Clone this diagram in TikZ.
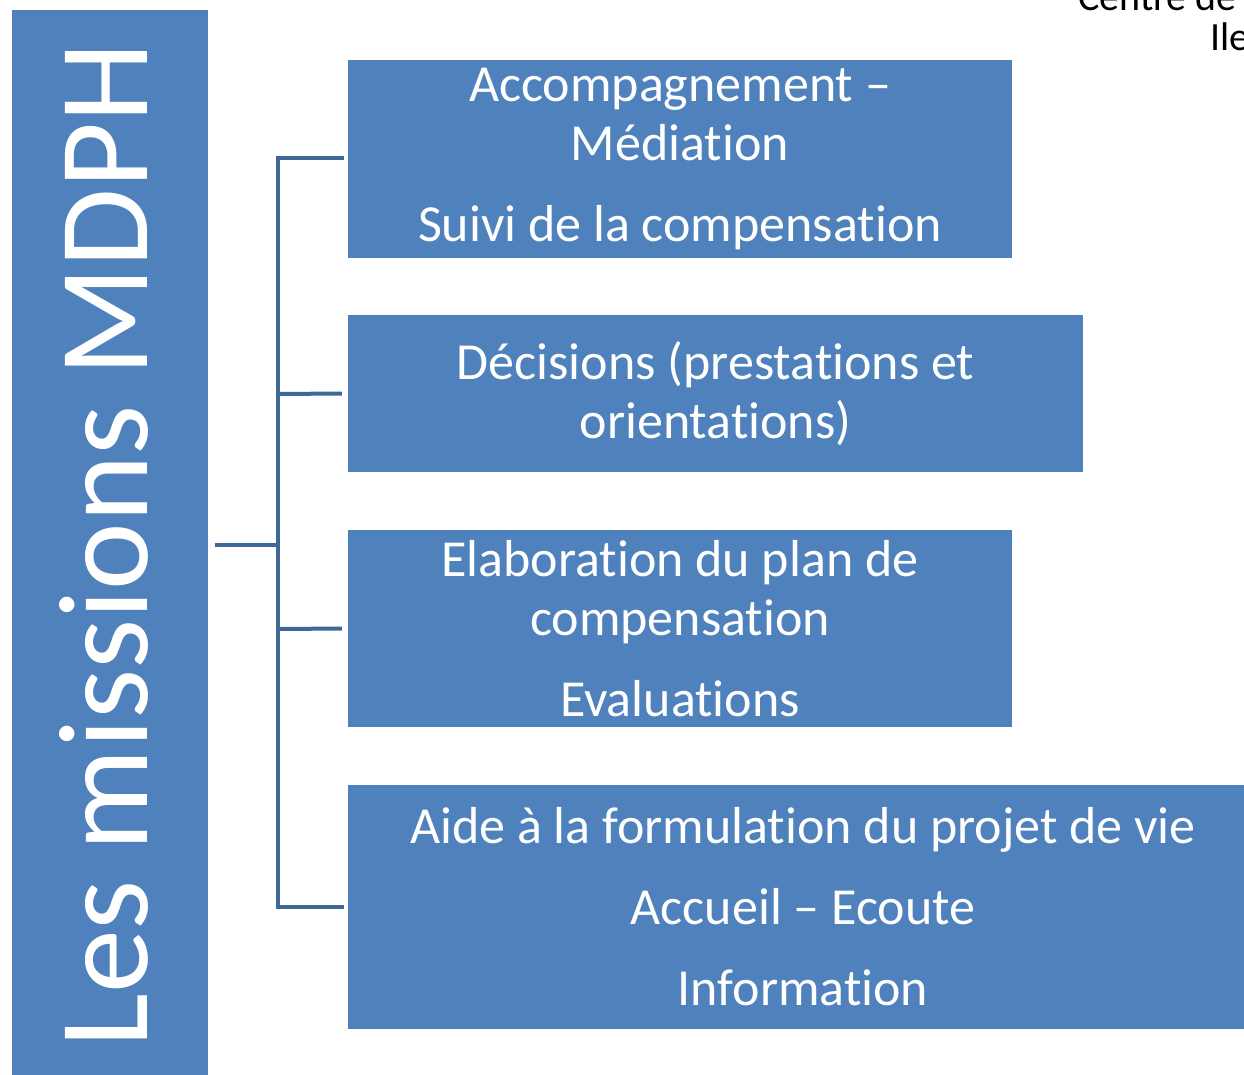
\documentclass[tikz,border=0pt]{standalone}
\usepackage{fontspec}
\setmainfont{Carlito}[Ligatures=NoCommon]
\definecolor{boxblue}{HTML}{4F81BD}
\definecolor{linkblue}{HTML}{3F6797}
\begin{document}
\begin{tikzpicture}[x=1pt,y=-1pt,
  mission/.style={fill=boxblue, draw=none, text=white, align=center, inner sep=0pt,
    font=\fontsize{52}{59}\selectfont},
  link/.style={draw=linkblue, line width=4pt}]
\useasboundingbox (0,0) rectangle (1244,1074);
\begin{scope}
\clip (0,0) rectangle (1244,1074);
% header text (cropped)
\node[anchor=base west, font=\fontsize{40}{48}\selectfont, inner sep=0pt] (hdr1) at (1078,10) {Centre de ressources};
\node[anchor=base west, font=\fontsize{40}{48}\selectfont, inner sep=0pt] (hdr2) at (1210,50) {Ile-de-France};
% title bar
\fill[boxblue] (12,10) rectangle (208,1080);
\node[rotate=90, text=white, font=\fontsize{128}{150}\selectfont, inner sep=0pt] (title) at (104,545) {Les missions MDPH};
\end{scope}
% boxes
\node[mission, minimum width=664pt, minimum height=198pt] (b1) at (680,159)
  {Accompagnement –\\Médiation\\[22pt]Suivi de la compensation};
\node[mission, minimum width=735pt, minimum height=157pt] (b2) at (715.5,393.5)
  {Décisions (prestations et\\orientations)};
\node[mission, minimum width=664pt, minimum height=197pt] (b3) at (680,628.5)
  {Elaboration du plan de\\compensation\\[22pt]Evaluations};
\node[mission, minimum width=896pt, minimum height=244pt] (b4) at (796,907)
  {\hspace*{14pt}Aide à la formulation du projet de vie\\[22pt]\hspace*{14pt}Accueil – Ecoute\\[22pt]\hspace*{14pt}Information};
% connectors
\coordinate (hub) at (278,545);
\coordinate (stub) at (215,545);
\draw[link] (stub) -- (hub);
\draw[link, line cap=rect] (b1.west |- 0,158) ++(-6,0) -| (278,907) -- ([xshift=-6pt]b4.west |- 0,907);
\draw[link] (278,394) -- ([xshift=-6pt]b2.west);
\draw[link] (278,629) -- ([xshift=-6pt]b3.west);
\end{tikzpicture}
\end{document}
